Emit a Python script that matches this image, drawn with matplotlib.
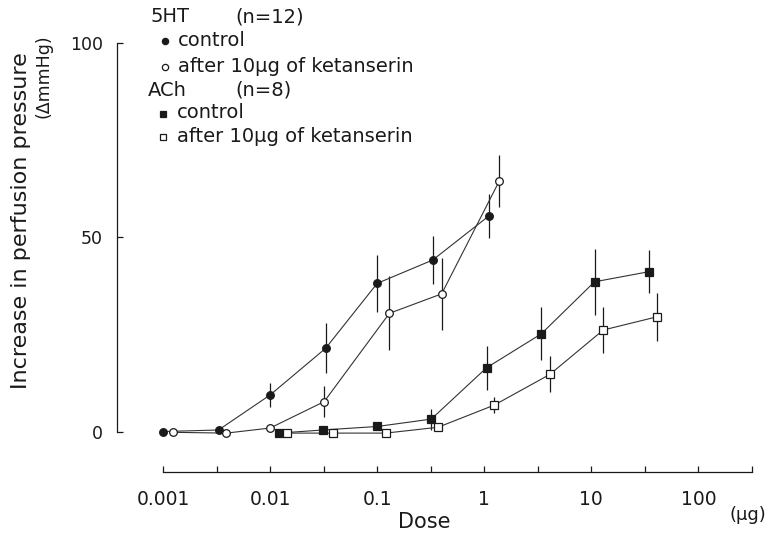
import matplotlib
matplotlib.use("Agg")
import matplotlib.pyplot as plt
from matplotlib.lines import Line2D
import numpy as np

# ---- data ----
ht_dose_ctrl = [0.001, 0.0033, 0.01, 0.033, 0.1, 0.33, 1.1]
ht_ctrl = [0.1, 0.5, 9.5, 21.5, 38.2, 44.2, 55.5]
ht_ctrl_err = [0, 0, 3.1, 6.4, 7.3, 6.2, 5.7]

ht_dose_ket = [0.00123, 0.0039, 0.01, 0.032, 0.13, 0.40, 1.38]
ht_ket = [-0.1, -0.3, 1.0, 7.8, 30.5, 35.5, 64.5]
ht_ket_err = [0, 0, 0, 3.9, 9.5, 9.3, 6.7]

ach_dose_ctrl = [0.012, 0.031, 0.1, 0.32, 1.05, 3.4, 10.7, 34.5]
ach_ctrl = [-0.3, 0.5, 1.4, 3.3, 16.5, 25.2, 38.6, 41.2]
ach_ctrl_err = [0, 0, 0, 2.7, 5.7, 6.8, 8.5, 5.6]

ach_dose_ket = [0.0145, 0.039, 0.12, 0.37, 1.24, 4.1, 12.9, 41]
ach_ket = [-0.3, -0.3, -0.3, 1.2, 6.9, 14.8, 26.2, 29.6]
ach_ket_err = [0, 0, 0, 1.0, 2.1, 4.6, 5.9, 6.1]

x_major = [0.001, 0.01, 0.1, 1, 10, 100]
x_major_labels = ["0.001", "0.01", "0.1", "1", "10", "100"]
y_ticks = [0, 50, 100]

W, H = 767, 534
fig = plt.figure(figsize=(W / 100, H / 100), dpi=100)
plt.rcParams['font.family'] = ['DejaVu Sans']

# axes placement in pixels
axL, axR, axT, axB = 117, 752, 43, 472
ax = fig.add_axes([axL / W, (H - axB) / H, (axR - axL) / W, (axB - axT) / H])

x_end = 10 ** 2.5
x_start = 10 ** (-3 - (163 - 117) / 107.1)
ax.set_xscale("log")
ax.set_xlim(x_start, x_end)
ax.set_ylim(-10.3, 100)

ink = "#1a1a1a"
lw = 0.8

def series(x, y, e, marker, filled):
    ax.errorbar(x, y, yerr=e, fmt="none", ecolor=ink, elinewidth=0.9, capsize=0, zorder=2)
    ax.plot(x, y, color="#333333", lw=lw, zorder=3)
    ax.plot(x, y, linestyle="none", marker=marker, markersize=5.5 if marker == "o" else 5.2,
            markerfacecolor=ink if filled else "white", markeredgecolor=ink,
            markeredgewidth=0.9, zorder=4)

series(ht_dose_ctrl, ht_ctrl, ht_ctrl_err, "o", True)
series(ht_dose_ket, ht_ket, ht_ket_err, "o", False)
series(ach_dose_ctrl, ach_ctrl, ach_ctrl_err, "s", True)
series(ach_dose_ket, ach_ket, ach_ket_err, "s", False)

# spines
for s in ["top", "right"]:
    ax.spines[s].set_visible(False)
ax.spines["left"].set_bounds(0, 100)
ax.spines["bottom"].set_bounds(0.001, x_end)
ax.spines["left"].set_linewidth(0.9)
ax.spines["bottom"].set_linewidth(0.9)
ax.spines["left"].set_color(ink)
ax.spines["bottom"].set_color(ink)

ax.set_yticks(y_ticks)
ax.set_yticklabels([str(v) for v in y_ticks], fontsize=12.5, color=ink)
ax.tick_params(axis="y", direction="in", length=4, width=0.9, pad=10, colors=ink)

all_xt = [10 ** (k / 2) for k in range(-6, 6)]
ax.xaxis.set_major_locator(matplotlib.ticker.FixedLocator(all_xt))
ax.xaxis.set_minor_locator(matplotlib.ticker.NullLocator())
labels = []
for t in all_xt:
    lab = ""
    for m, l in zip(x_major, x_major_labels):
        if abs(np.log10(t) - np.log10(m)) < 1e-6:
            lab = l
    labels.append(lab)
ax.set_xticklabels(labels, fontsize=13.5, color=ink)
ax.tick_params(axis="x", direction="in", length=4, width=0.9, pad=13, colors=ink)

# axis labels
def ftext(x, y, s, **kw):
    fig.text(x / W, 1 - y / H, s, color=ink, **kw)

ftext(21, 221, "Increase in perfusion pressure", rotation=90, ha="center", va="center", fontsize=16)
ftext(44, 76, "(ΔmmHg)", rotation=90, ha="center", va="center", fontsize=12.5)
ftext(424, 522, "Dose", ha="center", va="center", fontsize=15)
ftext(766, 515, "(μg)", ha="right", va="center", fontsize=13)

# legend
fs = 14
ftext(150, 17, "5HT", ha="left", va="center", fontsize=fs)
ftext(235, 17, "(n=12)", ha="left", va="center", fontsize=fs)
ftext(178, 40, "control", ha="left", va="center", fontsize=fs)
ftext(178, 66, "after 10μg of ketanserin", ha="left", va="center", fontsize=fs)
ftext(148, 90, "ACh", ha="left", va="center", fontsize=fs)
ftext(235, 90, "(n=8)", ha="left", va="center", fontsize=fs)
ftext(177, 113, "control", ha="left", va="center", fontsize=fs)
ftext(177, 136, "after 10μg of ketanserin", ha="left", va="center", fontsize=fs)

def fmark(x, y, marker, filled):
    fig.add_artist(Line2D([x / W], [1 - y / H], marker=marker, linestyle="none",
                          markersize=4.5, markerfacecolor=ink if filled else "white",
                          markeredgecolor=ink, markeredgewidth=0.9, transform=fig.transFigure))

fmark(165, 41, "o", True)
fmark(165, 67, "o", False)
fmark(163, 114, "s", True)
fmark(163, 137, "s", False)

fig.savefig("out.png", dpi=100)
